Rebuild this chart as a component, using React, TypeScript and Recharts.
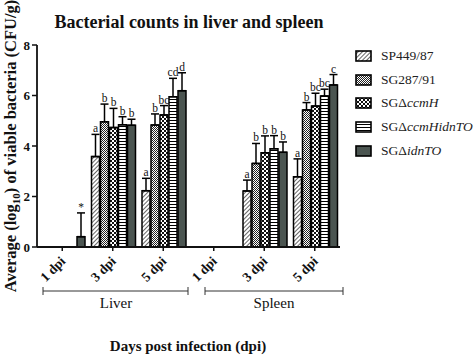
import React from 'react';
import { BarChart, Bar, XAxis, YAxis, ErrorBar, LabelList, Legend } from 'recharts';

const categories = ['L1', 'L3', 'L5', 'S1', 'S3', 'S5'];
const categoryLabels = ['1 dpi', '3 dpi', '5 dpi', '1 dpi', '3 dpi', '5 dpi'];
const yTicks = [0, 2, 4, 6, 8];

const sp449 = [null, 3.58, 2.23, null, 2.22, 2.78];
const sp449Err = [null, 0.88, 0.49, null, 0.43, 0.71];
const sp449Sig = ['', 'a', 'a', '', 'a', 'a'];

const sg287 = [null, 4.96, 4.83, null, 3.31, 5.43];
const sg287Err = [null, 0.70, 0.44, null, 0.79, 0.29];
const sg287Sig = ['', 'b', 'b', '', 'b', 'b'];

const ccmH = [null, 4.73, 5.23, null, 3.73, 5.58];
const ccmHErr = [null, 0.76, 0.37, null, 0.67, 0.51];
const ccmHSig = ['', 'b', 'bc', '', 'b', 'bc'];

const ccmHidnTO = [null, 4.84, 5.95, null, 3.89, 5.98];
const ccmHidnTOErr = [null, 0.32, 0.73, null, 0.52, 0.27];
const ccmHidnTOSig = ['', 'b', 'cd', '', 'b', 'bc'];

const idnTO = [0.41, 4.82, 6.19, null, 3.75, 6.42];
const idnTOErr = [0.94, 0.24, 0.71, null, 0.41, 0.41];
const idnTOSig = ['*', 'b', 'd', '', 'b', 'c'];

const series = [
  { key: 'sp449', name: 'SP449/87', vals: sp449, errs: sp449Err, sig: sp449Sig, fill: 'url(#patHatch)', label: [{ t: 'SP449/87', i: false }] },
  { key: 'sg287', name: 'SG287/91', vals: sg287, errs: sg287Err, sig: sg287Sig, fill: 'url(#patFine)', label: [{ t: 'SG287/91', i: false }] },
  { key: 'ccmH', name: 'SGΔccmH', vals: ccmH, errs: ccmHErr, sig: ccmHSig, fill: 'url(#patChecker)', label: [{ t: 'SGΔ', i: false }, { t: 'ccmH', i: true }] },
  { key: 'ccmHidnTO', name: 'SGΔccmHidnTO', vals: ccmHidnTO, errs: ccmHidnTOErr, sig: ccmHidnTOSig, fill: 'url(#patHoriz)', label: [{ t: 'SGΔ', i: false }, { t: 'ccmHidnTO', i: true }] },
  { key: 'idnTO', name: 'SGΔidnTO', vals: idnTO, errs: idnTOErr, sig: idnTOSig, fill: '#4b5551', label: [{ t: 'SGΔ', i: false }, { t: 'idnTO', i: true }] },
];

const data = categories.map((c, i) => {
  const row: any = { cat: c };
  series.forEach((s) => {
    row[s.key] = s.vals[i];
    row[s.key + 'Err'] = s.errs[i] == null ? null : [0, s.errs[i]];
    row[s.key + 'Sig'] = s.sig[i] ? `${s.sig[i]}|${s.vals[i]}|${s.errs[i]}` : '';
  });
  return row;
});

const FONT = '"Liberation Serif", "Times New Roman", serif';

const Patterns = () => (
  <svg width={0} height={0} style={{ position: 'absolute' }}>
    <defs>
      <pattern id="patHatch" width={3} height={3} patternUnits="userSpaceOnUse" patternTransform="rotate(45)">
        <rect width={3} height={3} fill="#fff" />
        <line x1={0} y1={0} x2={0} y2={3} stroke="#000" strokeWidth={1.2} />
      </pattern>
      <pattern id="patFine" width={2} height={2} patternUnits="userSpaceOnUse">
        <rect width={2} height={2} fill="#fff" />
        <rect x={0} y={0} width={1} height={1} fill="#222" />
        <rect x={1} y={1} width={1} height={1} fill="#222" />
      </pattern>
      <pattern id="patChecker" width={4} height={4} patternUnits="userSpaceOnUse">
        <rect width={4} height={4} fill="#111" />
        <rect x={0} y={0} width={2} height={2} fill="#fff" />
        <rect x={2} y={2} width={2} height={2} fill="#fff" />
      </pattern>
      <pattern id="patHoriz" width={3} height={3} patternUnits="userSpaceOnUse">
        <rect width={3} height={3} fill="#fff" />
        <line x1={0} y1={0.5} x2={3} y2={0.5} stroke="#000" strokeWidth={1} />
      </pattern>
    </defs>
  </svg>
);

const SigLabel = (props: any) => {
  const vb = props.viewBox || props;
  const x = Number(vb.x);
  const y = Number(vb.y);
  const w = Number(vb.width);
  const h = Math.abs(Number(vb.height));
  const raw = props.value;
  if (!raw || typeof raw !== 'string' || !isFinite(x)) return null;
  const [txt, vs, es] = raw.split('|');
  const v = Number(vs);
  const e = Number(es) || 0;
  const pxPerUnit = v > 0 ? h / v : 0;
  const top = Math.min(y, y + Number(vb.height)) - e * pxPerUnit;
  return (
    <text
      x={x + w / 2}
      y={top - 2}
      textAnchor="middle"
      fontFamily={FONT}
      fontSize={11.5}
      fill="#111"
      style={{ fill: '#111' }}
    >
      {txt}
    </text>
  );
};

const XTick = (props: any) => {
  const { x, y, payload } = props;
  const i = categories.indexOf(payload.value);
  const tx = Number(x) + 4;
  const ty = Number(y) + 9;
  return (
    <g transform={`translate(${tx},${ty}) rotate(-45)`}>
      <text
        x={0}
        y={0}
        textAnchor="end"
        fontFamily={FONT}
        fontWeight="bold"
        fontSize={13.5}
        fill="#111"
      >
        {categoryLabels[i]}
      </text>
    </g>
  );
};

const renderLegend = () => (
  <div style={{ fontFamily: FONT, fontSize: 13.5, color: '#222' }}>
    {series.map((s) => (
      <div key={s.key} style={{ display: 'flex', alignItems: 'center', height: 23.8 }}>
        <svg width={18} height={12} style={{ marginRight: 8 }}>
          <rect x={1} y={1} width={15} height={10} fill={s.fill} stroke="#000" strokeWidth={1.6} />
        </svg>
        <span style={{ whiteSpace: 'nowrap' }}>
          {s.label.map((p, j) => (
            <span key={j} style={{ fontStyle: p.i ? 'italic' : 'normal' }}>{p.t}</span>
          ))}
        </span>
      </div>
    ))}
  </div>
);

const Overlay = () => (
  <svg width={474} height={356} style={{ position: 'absolute', left: 0, top: 0, pointerEvents: 'none' }}>
    <text x={189} y={28} textAnchor="middle" fontFamily={FONT} fontWeight="bold" fontSize={18} fill="#111">
      Bacterial counts in liver and spleen
    </text>
    <text
      x={10}
      y={146}
      transform="rotate(-90 10 146)"
      textAnchor="middle"
      dominantBaseline="central"
      fontFamily={FONT}
      fontWeight="bold"
      fontSize={16.5}
      fill="#111"
    >
      Average (log<tspan baselineShift="sub" fontSize={11}>10</tspan>) of viable bacteria (CFU/g)
    </text>
    <g stroke="#333" strokeWidth={1}>
      <line x1={43} y1={291} x2={188} y2={291} />
      <line x1={43} y1={287} x2={43} y2={295} />
      <line x1={188} y1={287} x2={188} y2={295} />
      <line x1={205} y1={291} x2={343} y2={291} />
      <line x1={205} y1={287} x2={205} y2={295} />
      <line x1={343} y1={287} x2={343} y2={295} />
    </g>
    <text x={116} y={308} textAnchor="middle" fontFamily={FONT} fontSize={15} fill="#111">Liver</text>
    <text x={274} y={308} textAnchor="middle" fontFamily={FONT} fontSize={15} fill="#111">Spleen</text>
    <text x={188} y={351} textAnchor="middle" fontFamily={FONT} fontWeight="bold" fontSize={15} fill="#111">
      Days post infection (dpi)
    </text>
  </svg>
);

export default function App() {
  return (
    <div style={{ position: 'absolute', left: 0, top: 0, width: 474, height: 356, background: '#fff', overflow: 'hidden' }}>
      <Patterns />
      <BarChart
        width={474}
        height={356}
        data={data}
        margin={{ top: 45, right: 134, bottom: 0, left: 0 }}
        barCategoryGap={4}
        barGap={1}
      >
        <XAxis
          dataKey="cat"
          tick={<XTick />}
          tickSize={4}
          axisLine={{ stroke: '#111', strokeWidth: 1.8 }}
          tickLine={{ stroke: '#111', strokeWidth: 1.5 }}
          interval={0}
          height={109}
        />
        <YAxis
          width={37}
          domain={[0, 8]}
          ticks={yTicks}
          tickSize={5}
          axisLine={{ stroke: '#111', strokeWidth: 1.8 }}
          tickLine={{ stroke: '#111', strokeWidth: 1.5 }}
          tick={{ fontFamily: FONT, fontWeight: 'bold', fontSize: 13, fill: '#111' }}
        />
        <Legend
          layout="vertical"
          align="center"
          verticalAlign="middle"
          content={renderLegend}
          wrapperStyle={{ left: 355, top: 44, width: 120 }}
        />
        {series.map((s) => (
          <Bar
            key={s.key}
            dataKey={s.key}
            name={s.name}
            fill={s.fill}
            stroke="#000"
            strokeWidth={1.5}
            isAnimationActive={false}
          >
            <ErrorBar dataKey={s.key + 'Err'} width={4} stroke="#000" strokeWidth={1.5} direction="y" />
            <LabelList dataKey={s.key + 'Sig'} content={<SigLabel />} />
          </Bar>
        ))}
      </BarChart>
      <Overlay />
    </div>
  );
}
